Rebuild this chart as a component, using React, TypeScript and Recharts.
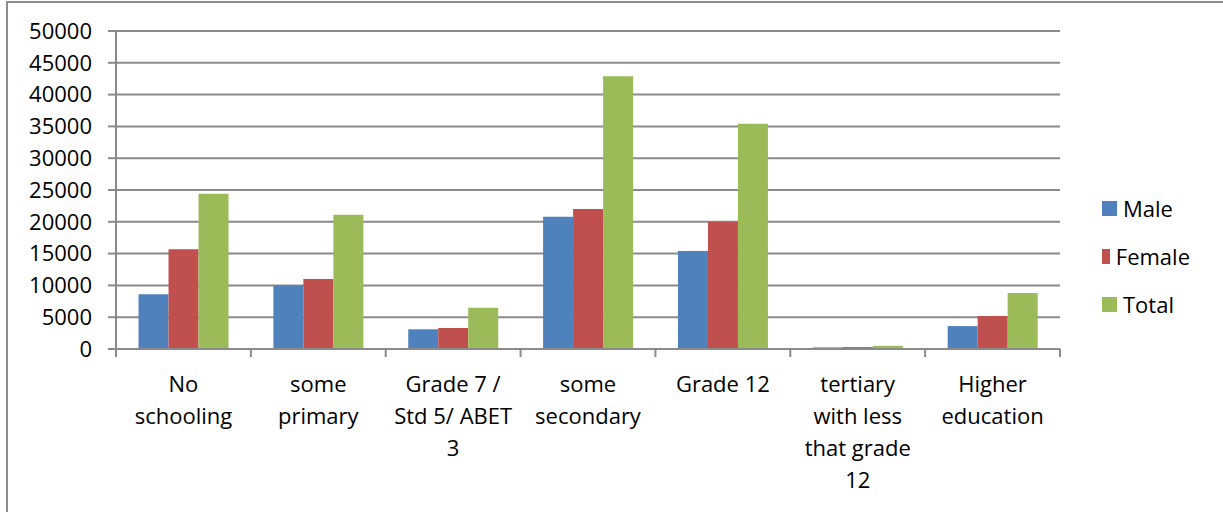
import React from 'react';
import { BarChart, Bar, XAxis, YAxis, CartesianGrid, Legend } from 'recharts';

const levels = [
  'No schooling',
  'some primary',
  'Grade 7 / Std 5/ ABET 3',
  'some secondary',
  'Grade 12',
  'tertiary with less that grade 12',
  'Higher education',
];
const male = [8600, 10000, 3100, 20800, 15400, 250, 3600];
const female = [15700, 11000, 3300, 22000, 20000, 300, 5200];
const total = [24400, 21100, 6500, 42900, 35400, 500, 8800];
const yTicks = [0, 5000, 10000, 15000, 20000, 25000, 30000, 35000, 40000, 45000, 50000];

const series = [
  { key: 'Male', color: '#4F81BD' },
  { key: 'Female', color: '#C0504D' },
  { key: 'Total', color: '#9BBB59' },
];

const data = levels.map((level, i) => ({
  level,
  Male: male[i],
  Female: female[i],
  Total: total[i],
}));

const FONT = '"Open Sans", sans-serif';
const GRID = '#8a8a8a';
const LABEL_WIDTH = 121;

// greedy word wrap using canvas text metrics
let ctx: CanvasRenderingContext2D | null = null;
function wrap(label: string): string[] {
  if (!ctx) {
    ctx = document.createElement('canvas').getContext('2d');
    if (ctx) ctx.font = `22px ${FONT}`;
  }
  const measure = (s: string) => (ctx ? ctx.measureText(s).width : s.length * 11);
  const lines: string[] = [];
  let line = '';
  for (const word of label.split(' ')) {
    const next = line ? `${line} ${word}` : word;
    if (line && measure(next) > LABEL_WIDTH) {
      lines.push(line);
      line = word;
    } else {
      line = next;
    }
  }
  if (line) lines.push(line);
  return lines;
}

function LevelTick(props: any) {
  const { x, y, payload, index, visibleTicksCount } = props;
  const half = payload.offset ?? 67.4;
  const lines = wrap(String(payload.value));
  return (
    <g>
      <line x1={x - half} x2={x - half} y1={y} y2={y + 8} stroke={GRID} strokeWidth={2} />
      {index === visibleTicksCount - 1 && (
        <line x1={x + half} x2={x + half} y1={y} y2={y + 8} stroke={GRID} strokeWidth={2} />
      )}
      <text x={x} y={y + 43} textAnchor="middle" fontSize={22} fontFamily={FONT} fill="#000">
        {lines.map((l, i) => (
          <tspan key={i} x={x} dy={i === 0 ? 0 : 32}>
            {l}
          </tspan>
        ))}
      </text>
    </g>
  );
}

function LegendBox() {
  return (
    <div style={{ paddingLeft: 42, fontFamily: FONT }}>
      {series.map((s) => (
        <div key={s.key} style={{ display: 'flex', alignItems: 'center', height: 48 }}>
          <span style={{ width: 15, height: 15, background: s.color, display: 'inline-block' }} />
          <span style={{ marginLeft: 6, fontSize: 22, color: '#000' }}>{s.key}</span>
        </div>
      ))}
    </div>
  );
}

export default function App() {
  return (
    <div style={{ position: 'absolute', left: 0, top: 0, width: 1223, height: 512, overflow: 'hidden', background: '#fff' }}>
      <div
        style={{
          position: 'absolute',
          left: 6,
          top: 1,
          width: 1300,
          height: 600,
          border: '2px solid #8c8c8c',
        }}
      />
      <BarChart
        width={1223}
        height={512}
        data={data}
        margin={{ top: 31, right: 33, bottom: 0, left: 16 }}
        barCategoryGap="16.7%"
        barGap={0}
      >
        <CartesianGrid vertical={false} stroke={GRID} strokeWidth={2} />
        <XAxis
          dataKey="level"
          height={163}
          axisLine={{ stroke: GRID, strokeWidth: 2 }}
          tickLine={false}
          tickSize={0}
          tickMargin={0}
          interval={0}
          tick={<LevelTick />}
        />
        <YAxis
          width={100}
          domain={[0, 50000]}
          ticks={yTicks}
          interval={0}
          axisLine={{ stroke: GRID, strokeWidth: 2 }}
          tickLine={{ stroke: GRID, strokeWidth: 2 }}
          tickSize={8}
          tickMargin={16}
          tick={{ fontSize: 22, fontFamily: FONT, fill: '#000' }}
        />
        <Legend
          layout="vertical"
          align="right"
          verticalAlign="middle"
          wrapperStyle={{ width: 130 }}
          content={<LegendBox />}
        />
        {series.map((s) => (
          <Bar key={s.key} dataKey={s.key} fill={s.color} isAnimationActive={false} />
        ))}
      </BarChart>
    </div>
  );
}
